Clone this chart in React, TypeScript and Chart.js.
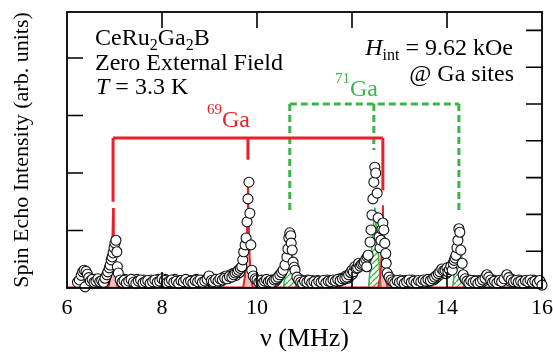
import React, { useEffect, useRef } from "react";
import { Chart, registerables } from "chart.js";
Chart.register(...registerables);

// Measured spin-echo spectrum (frequency in MHz, intensity in arb. units)
const echoFreq = [
  6.22, 6.26, 6.30, 6.33, 6.36, 6.38, 6.40, 6.43, 6.46, 6.49, 6.53, 6.57, 6.61, 6.65, 6.69, 6.73, 6.77, 6.80, 6.84,
  6.86, 6.89, 6.91, 6.93, 6.95, 6.97, 6.99, 7.01, 7.03, 7.05, 7.06, 7.08, 7.12,
  7.16, 7.20, 7.25, 7.30, 7.35, 7.40, 7.45, 7.50, 7.55, 7.60, 7.65, 7.70, 7.75, 7.80, 7.85, 7.90, 7.95, 8.00,
  8.05, 8.10, 8.15, 8.20, 8.25, 8.30, 8.35, 8.40, 8.45, 8.50, 8.55, 8.60, 8.65, 8.70, 8.75, 8.80, 8.85, 8.90,
  8.95, 8.99, 9.04, 9.08, 9.13, 9.18, 9.22, 9.27, 9.32,
  9.37, 9.42, 9.47, 9.51, 9.54, 9.58, 9.61, 9.65, 9.68, 9.70, 9.72, 9.75, 9.77, 9.79, 9.81, 9.83, 9.85, 9.87,
  9.89, 9.92, 9.96, 10.00,
  10.04, 10.08, 10.12, 10.16, 10.20, 10.24, 10.28, 10.32, 10.36, 10.40, 10.44,
  10.48, 10.52, 10.55, 10.59, 10.63, 10.65, 10.67, 10.69, 10.71, 10.72, 10.74, 10.76, 10.78, 10.80, 10.84, 10.88,
  10.92, 10.96, 11.00, 11.05, 11.10, 11.15, 11.20, 11.25, 11.30, 11.35, 11.40, 11.45, 11.50, 11.55, 11.60,
  11.65, 11.70, 11.75, 11.80, 11.85,
  11.89, 11.93, 11.97, 12.00, 12.03, 12.06, 12.09, 12.12, 12.14, 12.17, 12.20, 12.23, 12.26, 12.29, 12.31,
  12.32, 12.34, 12.38, 12.40, 12.42, 12.44, 12.46, 12.48, 12.50, 12.53, 12.55, 12.57, 12.59, 12.61, 12.63,
  12.65, 12.67, 12.69, 12.71, 12.72, 12.74, 12.78, 12.82,
  12.86, 12.90, 12.95, 13.00, 13.05, 13.10, 13.15, 13.20, 13.25, 13.30, 13.35, 13.40, 13.45, 13.50, 13.55,
  13.60, 13.65, 13.70, 13.74,
  13.78, 13.82, 13.85, 13.89, 13.93, 13.96, 14.00, 14.02, 14.05, 14.08, 14.11, 14.13, 14.15, 14.17, 14.19,
  14.21, 14.23, 14.25, 14.27, 14.29, 14.32, 14.34, 14.38, 14.42,
  14.46, 14.50, 14.55, 14.60, 14.65, 14.70, 14.75, 14.80, 14.84, 14.88, 14.92, 14.96, 15.00, 15.05, 15.10,
  15.15, 15.20, 15.26, 15.30, 15.35, 15.40, 15.45, 15.50, 15.55, 15.60, 15.65, 15.70, 15.75, 15.80, 15.85,
  15.90, 15.95, 16.00,
];
const echoIntensity = [
  0.10, 0.14, 0.22, 0.28, 0.31, 0.02, 0.29, 0.24, 0.18, 0.12, 0.15, 0.10, 0.12, 0.16, 0.11, 0.13, 0.10, 0.17, 0.23,
  0.28, 0.35, 0.40, 0.49, 0.54, 0.61, 0.70, 0.78, 0.83, 0.63, 0.37, 0.26, 0.14,
  0.10, 0.13, 0.09, 0.12, 0.15, 0.10, 0.08, 0.12, 0.14, 0.09, 0.11, 0.13, 0.08, 0.11, 0.14, 0.10, 0.12, 0.16,
  0.13, 0.09, 0.11, 0.14, 0.10, 0.12, 0.08, 0.13, 0.11, 0.15, 0.10, 0.12, 0.09, 0.13, 0.11, 0.14, 0.10, 0.12,
  0.15, 0.21, 0.13, 0.11, 0.15, 0.12, 0.16, 0.14, 0.17,
  0.16, 0.20, 0.19, 0.23, 0.26, 0.28, 0.31, 0.34, 0.37, 0.49, 0.63, 0.75, 0.87, 1.15, 1.55, 1.84, 1.30, 0.75,
  0.31, 0.21, 0.16, 0.14,
  0.10, 0.13, 0.09, 0.12, 0.15, 0.11, 0.13, 0.10, 0.14, 0.16, 0.19,
  0.23, 0.27, 0.31, 0.40, 0.54, 0.68, 0.87, 0.96, 0.91, 0.78, 0.66, 0.45, 0.36, 0.31, 0.19, 0.14,
  0.10, 0.08, 0.12, 0.10, 0.13, 0.09, 0.11, 0.08, 0.12, 0.10, 0.13, 0.09, 0.12, 0.11, 0.14,
  0.12, 0.15, 0.13, 0.16, 0.17,
  0.19, 0.23, 0.27, 0.31, 0.28, 0.37, 0.34, 0.35, 0.43, 0.38, 0.41, 0.43, 0.45, 0.50, 0.37,
  0.54, 0.57, 0.80, 1.01, 1.27, 1.55, 1.84, 2.10, 2.00, 1.65, 1.22, 0.89, 0.70, 0.83, 1.02,
  1.13, 1.01, 0.78, 0.60, 0.43, 0.26, 0.19, 0.14,
  0.11, 0.09, 0.13, 0.10, 0.12, 0.08, 0.11, 0.14, 0.10, 0.12, 0.09, 0.13, 0.11, 0.14, 0.12,
  0.15, 0.13, 0.16, 0.19,
  0.22, 0.25, 0.28, 0.33, 0.30, 0.31, 0.35, 0.28, 0.32, 0.38, 0.31, 0.43, 0.48, 0.52, 0.57,
  0.70, 0.83, 1.03, 0.97, 0.66, 0.43, 0.23, 0.16, 0.12,
  0.09, 0.13, 0.10, 0.12, 0.08, 0.11, 0.14, 0.17, 0.23, 0.19, 0.14, 0.10, 0.12, 0.09, 0.13,
  0.11, 0.16, 0.23, 0.18, 0.14, 0.11, 0.13, 0.10, 0.12, 0.09, 0.13, 0.11, 0.14, 0.10, 0.12,
  0.09, 0.13, 0.05,
];
// Additional densely-spaced baseline scans
const echoFreqExtra = [
  6.51, 6.55, 6.59, 6.63, 6.67, 6.71, 6.75, 6.79, 6.82,
  7.14, 7.18, 7.22, 7.27, 7.32, 7.37, 7.42, 7.47, 7.52, 7.57, 7.62, 7.67, 7.72, 7.77, 7.82, 7.87, 7.92, 7.97,
  8.02, 8.07, 8.12, 8.17, 8.22, 8.27, 8.32, 8.37, 8.42, 8.47, 8.52, 8.57, 8.62, 8.67, 8.72, 8.77, 8.82, 8.87,
  8.92, 8.97, 9.02, 9.06, 9.10, 9.15, 9.20, 9.25, 9.30, 9.35, 9.40, 9.45, 9.49, 9.56, 9.63,
  10.02, 10.06, 10.10, 10.14, 10.18, 10.22, 10.26, 10.30, 10.34, 10.38, 10.42, 10.46,
  10.86, 10.90, 10.94, 10.98, 11.02, 11.07, 11.12, 11.17, 11.22, 11.27, 11.32, 11.37, 11.42, 11.47, 11.52,
  11.57, 11.62, 11.67, 11.72, 11.77, 11.82, 11.87, 11.91, 11.95, 12.01,
  12.76, 12.80, 12.84, 12.88, 12.92, 12.97, 13.02, 13.07, 13.12, 13.17, 13.22, 13.27, 13.32, 13.37, 13.42,
  13.47, 13.52, 13.57, 13.62, 13.67, 13.72, 13.76, 13.80, 13.87, 13.91, 13.98, 14.04,
  14.36, 14.40, 14.44, 14.48, 14.52, 14.57, 14.62, 14.67, 14.72, 14.77, 14.82, 14.86, 14.90, 14.94, 14.98,
  15.02, 15.07, 15.12, 15.17, 15.23, 15.28, 15.32, 15.37, 15.42, 15.47, 15.52, 15.57, 15.62, 15.67, 15.72,
  15.77, 15.82, 15.87, 15.92, 15.97,
];
const echoIntensityExtra = [
  0.09, 0.13, 0.15, 0.09, 0.14, 0.12, 0.15, 0.11, 0.20,
  0.12, 0.08, 0.15, 0.11, 0.09, 0.13, 0.12, 0.15, 0.09, 0.12, 0.14, 0.08, 0.11, 0.14, 0.09, 0.12, 0.15, 0.10,
  0.11, 0.15, 0.12, 0.08, 0.12, 0.15, 0.10, 0.13, 0.09, 0.12, 0.14, 0.08, 0.13, 0.11, 0.15, 0.09, 0.12, 0.14,
  0.10, 0.13, 0.16, 0.10, 0.13, 0.10, 0.14, 0.12, 0.19, 0.21, 0.17, 0.23, 0.25, 0.22, 0.27,
  0.12, 0.09, 0.14, 0.11, 0.08, 0.13, 0.10, 0.14, 0.12, 0.11, 0.15, 0.20,
  0.17, 0.12, 0.14, 0.11, 0.09, 0.14, 0.11, 0.13, 0.10, 0.13, 0.09, 0.12, 0.10, 0.14, 0.09,
  0.13, 0.10, 0.13, 0.11, 0.17, 0.14, 0.21, 0.17, 0.20, 0.24,
  0.22, 0.16, 0.12, 0.14, 0.10, 0.12, 0.14, 0.10, 0.13, 0.09, 0.12, 0.14, 0.10, 0.12, 0.09,
  0.13, 0.10, 0.14, 0.11, 0.15, 0.14, 0.17, 0.20, 0.24, 0.27, 0.25, 0.30,
  0.19, 0.14, 0.11, 0.14, 0.10, 0.13, 0.10, 0.13, 0.09, 0.12, 0.20, 0.17, 0.15, 0.12, 0.14,
  0.10, 0.12, 0.09, 0.14, 0.18, 0.20, 0.12, 0.15, 0.10, 0.12, 0.14, 0.10, 0.12, 0.09, 0.13,
  0.11, 0.14, 0.10, 0.12, 0.10,
];

// Simulated 69Ga lines (red, filled)
const ga69SimFreq = [
  6.0, 6.87, 6.91, 6.935, 6.955, 6.97, 6.985, 7.005, 7.03, 7.07,
  9.71, 9.75, 9.775, 9.795, 9.81, 9.825, 9.845, 9.87, 9.91,
  12.55, 12.59, 12.615, 12.635, 12.65, 12.665, 12.685, 12.71, 12.75, 16.0,
];
const ga69SimIntensity = [
  0.01, 0.01, 0.17, 0.40, 0.80, 1.39, 0.80, 0.40, 0.17, 0.01,
  0.01, 0.23, 0.55, 1.10, 1.91, 1.10, 0.55, 0.23, 0.01,
  0.01, 0.18, 0.41, 0.83, 1.44, 0.83, 0.41, 0.18, 0.01, 0.01,
];
// Simulated 71Ga lines (green, hatched)
const ga71SimFreq = [6.0, 10.56, 10.69, 10.82, 12.35, 12.48, 12.61, 14.12, 14.25, 14.38, 16.0];
const ga71SimIntensity = [0.01, 0.01, 0.95, 0.01, 0.01, 1.40, 0.01, 0.01, 1.0, 0.01, 0.01];

// Line-assignment brackets
const ga69Positions = [6.97, 9.81, 12.65];
const ga69Ends = [1.5, 2.23, 1.7];
const ga69Level = 2.61;
const ga71Positions = [10.69, 12.46, 14.25];
const ga71Ends = [1.3, 2.4, 1.3];
const ga71Level = 3.2;

const xTitle = "ν (MHz)";
const yTitle = "Spin Echo Intensity (arb. units)";

const SERIF = "'Liberation Serif', 'Times New Roman', serif";
const RED = "#e8202a";
const GREEN = "#3cb44a";

type Run = { t: string; size: number; italic?: boolean; dy?: number };

function drawRuns(ctx: CanvasRenderingContext2D, x: number, y: number, runs: Run[], color: string, align: "left" | "right" = "left") {
  ctx.save();
  ctx.fillStyle = color;
  ctx.textBaseline = "alphabetic";
  ctx.textAlign = "left";
  const widths = runs.map((r) => {
    ctx.font = `${r.italic ? "italic " : ""}${r.size}px ${SERIF}`;
    return ctx.measureText(r.t).width;
  });
  const total = widths.reduce((a, b) => a + b, 0);
  let cx = align === "right" ? x - total : x;
  runs.forEach((r, i) => {
    ctx.font = `${r.italic ? "italic " : ""}${r.size}px ${SERIF}`;
    ctx.fillText(r.t, cx, y + (r.dy || 0));
    cx += widths[i];
  });
  ctx.restore();
}

const decorPlugin = {
  id: "decor",
  beforeDatasetsDraw(chart: any) {
    const { ctx, scales } = chart;
    const x = scales.x;
    const y = scales.y;
    ctx.save();
    // 71Ga dashed bracket
    ctx.strokeStyle = GREEN;
    ctx.lineWidth = 3;
    ctx.setLineDash([7, 4]);
    const gl = y.getPixelForValue(ga71Level);
    ctx.beginPath();
    ctx.moveTo(x.getPixelForValue(ga71Positions[0]), gl);
    ctx.lineTo(x.getPixelForValue(ga71Positions[ga71Positions.length - 1]), gl);
    ga71Positions.forEach((f, i) => {
      const px = x.getPixelForValue(f);
      ctx.moveTo(px, gl);
      ctx.lineTo(px, y.getPixelForValue(ga71Ends[i]));
    });
    ctx.stroke();
    // 69Ga solid bracket
    ctx.setLineDash([]);
    ctx.strokeStyle = RED;
    ctx.lineWidth = 3;
    const rl = y.getPixelForValue(ga69Level);
    ctx.beginPath();
    ctx.moveTo(x.getPixelForValue(ga69Positions[0]), rl);
    ctx.lineTo(x.getPixelForValue(ga69Positions[ga69Positions.length - 1]), rl);
    ga69Positions.forEach((f, i) => {
      const px = x.getPixelForValue(f);
      ctx.moveTo(px, rl);
      ctx.lineTo(px, y.getPixelForValue(ga69Ends[i]));
    });
    ctx.stroke();
    ctx.restore();
  },
  afterDraw(chart: any) {
    const { ctx, chartArea: a, scales } = chart;
    ctx.save();
    ctx.strokeStyle = "#000";
    ctx.lineWidth = 1.6;
    const TL = 16;
    const inner = (s: any, step: number) =>
      s.ticks
        .map((t: any) => t.value)
        .filter((v: number) => v > s.min + 1e-6 && v < s.max - 1e-6 && Math.abs(v / step - Math.round(v / step)) < 1e-6);
    ctx.beginPath();
    inner(scales.x, 2).forEach((v: number) => {
      const px = scales.x.getPixelForValue(v);
      ctx.moveTo(px, a.bottom);
      ctx.lineTo(px, a.bottom - TL);
      ctx.moveTo(px, a.top);
      ctx.lineTo(px, a.top + TL);
    });
    inner(scales.y, 1).forEach((v: number) => {
      const py = scales.y.getPixelForValue(v);
      ctx.moveTo(a.left, py);
      ctx.lineTo(a.left + TL, py);
    });
    inner(scales.y2, 1).forEach((v: number) => {
      const py = scales.y2.getPixelForValue(v);
      ctx.moveTo(a.right, py);
      ctx.lineTo(a.right - TL, py);
    });
    ctx.stroke();
    ctx.lineWidth = 1.8;
    ctx.strokeRect(a.left, a.top, a.right - a.left, a.bottom - a.top);
    ctx.restore();

    const L = a.left;
    const T = a.top;
    drawRuns(ctx, L + 28, T + 33, [
      { t: "CeRu", size: 24 },
      { t: "2", size: 16, dy: 5 },
      { t: "Ga", size: 24 },
      { t: "2", size: 16, dy: 5 },
      { t: "B", size: 24 },
    ], "#000");
    drawRuns(ctx, L + 28, T + 58, [{ t: "Zero External Field", size: 24 }], "#000");
    drawRuns(ctx, L + 29, T + 82, [
      { t: "T", size: 24, italic: true },
      { t: " = 3.3 K", size: 24 },
    ], "#000");
    drawRuns(ctx, a.right - 29, T + 43, [
      { t: "H", size: 24, italic: true },
      { t: "int", size: 16, dy: 5 },
      { t: " = 9.62 kOe", size: 24 },
    ], "#000", "right");
    drawRuns(ctx, a.right - 28, T + 69, [{ t: "@ Ga sites", size: 24 }], "#000", "right");
    drawRuns(ctx, L + 140, T + 115, [
      { t: "69", size: 15, dy: -13 },
      { t: "Ga", size: 24 },
    ], RED);
    drawRuns(ctx, L + 268, T + 84, [
      { t: "71", size: 15, dy: -13 },
      { t: "Ga", size: 24 },
    ], GREEN);
  },
};

function makeHatch(): CanvasPattern | string {
  const c = document.createElement("canvas");
  c.width = 6;
  c.height = 6;
  const g = c.getContext("2d");
  if (!g) return "rgba(60,180,74,0.3)";
  g.strokeStyle = GREEN;
  g.lineWidth = 1.3;
  g.beginPath();
  g.moveTo(-1, 7);
  g.lineTo(7, -1);
  g.stroke();
  const p = g.createPattern(c, "repeat");
  return p || "rgba(60,180,74,0.3)";
}

export default function App() {
  const ref = useRef<HTMLCanvasElement | null>(null);
  useEffect(() => {
    document.body.style.margin = "0";
    const canvas = ref.current;
    if (!canvas) return;
    const toPts = (xs: number[], ys: number[]) => xs.map((f, i) => ({ x: f, y: ys[i] }));
    const echoPts = toPts(echoFreqExtra, echoIntensityExtra).concat(toPts(echoFreq, echoIntensity));
    const chart = new Chart(canvas, {
      type: "scatter",
      data: {
        datasets: [
          {
            data: echoPts,
            pointRadius: 5,
            pointBackgroundColor: "#fff",
            pointBorderColor: "#111",
            pointBorderWidth: 1.1,
            showLine: false,
            clip: false as any,
          },
          {
            data: toPts(ga69SimFreq, ga69SimIntensity),
            showLine: true,
            pointRadius: 0,
            borderColor: RED,
            borderWidth: 2,
            backgroundColor: "rgba(235,60,60,0.35)",
            fill: "origin",
            tension: 0,
          },
          {
            data: toPts(ga71SimFreq, ga71SimIntensity),
            showLine: true,
            pointRadius: 0,
            borderColor: GREEN,
            borderWidth: 1.6,
            backgroundColor: makeHatch() as any,
            fill: "origin",
            tension: 0,
          },
        ],
      },
      options: {
        responsive: false,
        animation: false,
        events: [],
        layout: { padding: { top: 12, left: 0, right: 0, bottom: 0 } },
        plugins: { legend: { display: false }, tooltip: { enabled: false } },
        scales: {
          x: {
            type: "linear",
            min: 6,
            max: 16,
            ticks: { stepSize: 2, color: "#000", font: { family: SERIF, size: 22 }, padding: 7, maxRotation: 0 },
            grid: { display: false, drawTicks: false, tickLength: 0 },
            border: { display: false },
            title: { display: true, text: xTitle, color: "#000", font: { family: SERIF, size: 26 }, padding: { top: 0, bottom: 3 } },
            afterFit: (s: any) => {
              s.height = 70;
              s.paddingLeft = 0;
              s.paddingRight = 0;
            },
          },
          y: {
            type: "linear",
            position: "left",
            min: 0,
            max: 4.8,
            ticks: { stepSize: 1, display: false },
            grid: { display: false, drawTicks: false, tickLength: 0 },
            border: { display: false },
            title: { display: true, text: yTitle, color: "#000", font: { family: SERIF, size: 22 }, padding: { top: 9, bottom: 0 } },
            afterFit: (s: any) => {
              s.width = 67;
              s.paddingTop = 0;
              s.paddingBottom = 0;
            },
          },
          y2: {
            type: "linear",
            position: "right",
            min: 0,
            max: 7.5,
            ticks: { stepSize: 1, display: false },
            grid: { display: false, drawTicks: false, tickLength: 0 },
            border: { display: false },
            afterFit: (s: any) => {
              s.width = 11;
              s.paddingTop = 0;
              s.paddingBottom = 0;
            },
          },
        },
      } as any,
      plugins: [decorPlugin],
    });
    return () => chart.destroy();
  }, []);
  return (
    <div style={{ position: "absolute", left: 0, top: 0, width: 553, height: 358, background: "#fff" }}>
      <canvas ref={ref} width={553} height={358} style={{ width: 553, height: 358, display: "block" }} />
    </div>
  );
}
